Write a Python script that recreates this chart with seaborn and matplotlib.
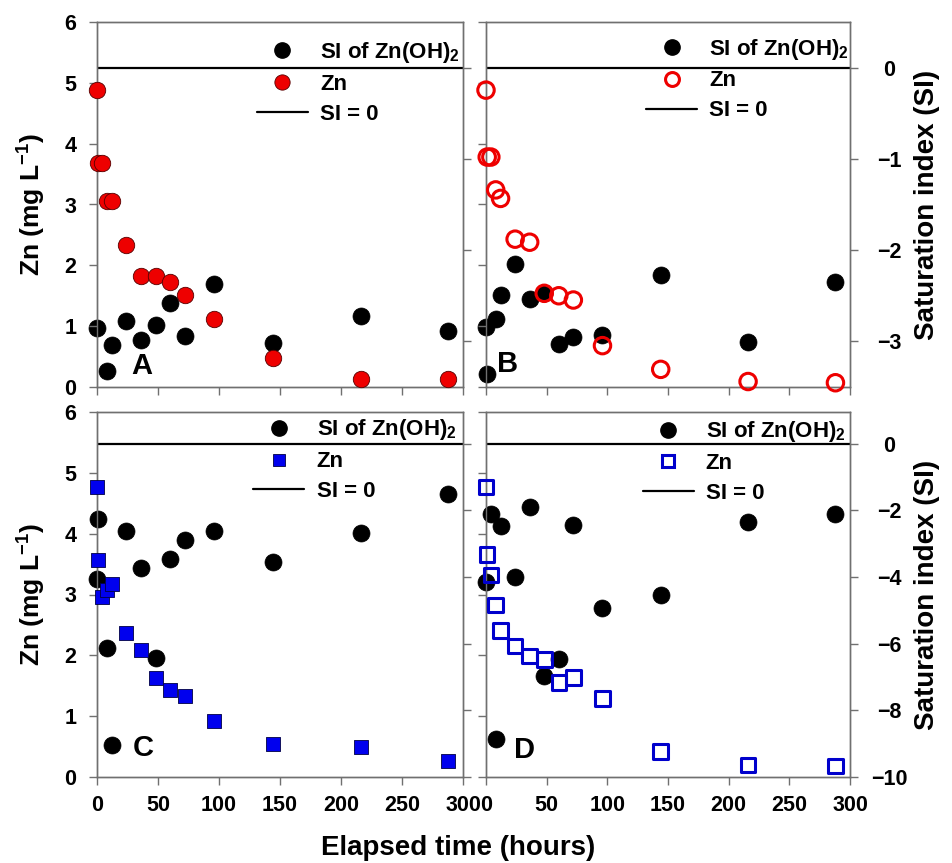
import matplotlib
matplotlib.use("Agg")
import matplotlib.pyplot as plt
from matplotlib.lines import Line2D
import seaborn as sns

# ---- data -------------------------------------------------------------
# Panel A
t_zn_a = [0, 1, 4, 8, 12, 24, 36, 48, 60, 72, 96, 144, 216, 288]
zn_a = [4.88, 3.69, 3.69, 3.05, 3.05, 2.33, 1.82, 1.82, 1.73, 1.51, 1.12, 0.47, 0.13, 0.13]
t_si_a = [0, 8, 12, 24, 36, 48, 60, 72, 96, 144, 216, 288]
si_a = [-2.85, -3.32, -3.04, -2.78, -2.98, -2.82, -2.58, -2.94, -2.37, -3.02, -2.72, -2.89]

# Panel B
t_zn_b = [0, 1, 4, 8, 12, 24, 36, 48, 60, 72, 96, 144, 216, 288]
zn_b = [4.88, 3.78, 3.78, 3.24, 3.10, 2.43, 2.38, 1.54, 1.50, 1.43, 0.68, 0.29, 0.09, 0.07]
t_si_b = [0, 1, 8, 12, 24, 36, 48, 60, 72, 96, 144, 216, 288]
si_b = [-2.84, -3.36, -2.75, -2.49, -2.15, -2.54, -2.47, -3.03, -2.95, -2.93, -2.27, -3.01, -2.35]

# Panel C
t_zn_c = [0, 1, 4, 8, 12, 24, 36, 48, 60, 72, 96, 144, 216, 288]
zn_c = [4.77, 3.57, 2.96, 3.07, 3.18, 2.36, 2.09, 1.62, 1.43, 1.33, 0.92, 0.55, 0.49, 0.26]
t_si_c = [0, 1, 8, 12, 24, 36, 48, 60, 72, 96, 144, 216, 288]
si_c = [-4.06, -2.26, -6.14, -9.05, -2.61, -3.74, -6.42, -3.47, -2.89, -2.61, -3.54, -2.69, -1.50]

# Panel D
t_zn_d = [0, 1, 4, 8, 12, 24, 36, 48, 60, 72, 96, 144, 216, 288]
zn_d = [4.77, 3.66, 3.32, 2.83, 2.41, 2.15, 1.99, 1.93, 1.55, 1.64, 1.29, 0.42, 0.20, 0.18]
t_si_d = [0, 4, 8, 12, 24, 36, 48, 60, 72, 96, 144, 216, 288]
si_d = [-4.14, -2.10, -8.85, -2.46, -3.99, -1.90, -6.96, -6.47, -2.43, -4.94, -4.54, -2.36, -2.10]

x_ticks = [0, 50, 100, 150, 200, 250, 300]
zn_ticks = [0, 1, 2, 3, 4, 5, 6]
si_ticks_top = [0, -1, -2, -3]
si_ticks_bottom = [0, -2, -4, -6, -8, -10]

# ---- style ------------------------------------------------------------
sns.set_theme(style="white")
plt.rcParams["font.family"] = ["Liberation Sans", "DejaVu Sans"]
plt.rcParams["font.weight"] = "bold"
plt.rcParams["text.color"] = "black"
plt.rcParams["axes.labelcolor"] = "black"
plt.rcParams["xtick.color"] = "black"
plt.rcParams["ytick.color"] = "black"
plt.rcParams["mathtext.fontset"] = "custom"
plt.rcParams["mathtext.rm"] = "Liberation Sans:bold"
plt.rcParams["mathtext.it"] = "Liberation Sans:bold"
plt.rcParams["mathtext.bf"] = "Liberation Sans:bold"
plt.rcParams["mathtext.default"] = "rm"

W, H = 952, 863
fig = plt.figure(figsize=(W / 100, H / 100), dpi=100)
fig.patch.set_facecolor("white")

SPINE = "#707070"
TICK_FS = 15.5
LEG_FS = 16


def px_axes(left, right, top, bottom):
    return [left / W, 1 - bottom / H, (right - left) / W, (bottom - top) / H]


panels = [
    dict(rect=px_axes(97, 463, 22, 387), t_zn=t_zn_a, zn=zn_a, t_si=t_si_a, si=si_a,
         si_lim=(-3.5, 0.5), si_ticks=si_ticks_top, color="#ee0000", marker="o",
         open=False, left=True, bottom=False, letter="A", letter_xy=(0.123, 0.02),
         leg_xy=(0.437, 0.95)),
    dict(rect=px_axes(486, 850, 22, 387), t_zn=t_zn_b, zn=zn_b, t_si=t_si_b, si=si_b,
         si_lim=(-3.5, 0.5), si_ticks=si_ticks_top, color="#ee0000", marker="o",
         open=True, left=False, bottom=False, letter="B", letter_xy=(0.06, 0.025),
         leg_xy=(0.44, 0.96)),
    dict(rect=px_axes(97, 463, 412, 777), t_zn=t_zn_c, zn=zn_c, t_si=t_si_c, si=si_c,
         si_lim=(-10, 0.95), si_ticks=si_ticks_bottom, color="#0000ee", marker="s",
         open=False, left=True, bottom=True, letter="C", letter_xy=(0.126, 0.04),
         leg_xy=(0.427, 0.985)),
    dict(rect=px_axes(486, 850, 412, 777), t_zn=t_zn_d, zn=zn_d, t_si=t_si_d, si=si_d,
         si_lim=(-10, 0.95), si_ticks=si_ticks_bottom, color="#0000cc", marker="s",
         open=True, left=False, bottom=True, letter="D", letter_xy=(0.107, 0.035),
         leg_xy=(0.43, 0.98)),
]

for p in panels:
    ax = fig.add_axes(p["rect"])
    ax2 = ax.twinx()
    # Zn series sits above the saturation-index series
    ax.set_zorder(ax2.get_zorder() + 1)
    ax.patch.set_visible(False)

    # saturation index on the right-hand scale
    sns.scatterplot(x=p["t_si"], y=p["si"], ax=ax2, color="black", s=150,
                    edgecolor="black", linewidth=0.5, legend=False, clip_on=False,
                    zorder=3)
    ax2.axhline(0, color="black", lw=1.6, zorder=2)

    # Zn concentration on the left-hand scale
    zn_size = 140 if p["marker"] == "o" else 110
    sns.scatterplot(x=p["t_zn"], y=p["zn"], ax=ax, color=p["color"], s=zn_size,
                    marker=p["marker"], edgecolor="#550000" if p["marker"] == "o" else "#000044",
                    linewidth=0.6, legend=False, clip_on=False, zorder=4)
    coll = ax.collections[-1]
    if p["open"]:
        coll.set_facecolor("none")
        coll.set_edgecolor(p["color"])
        coll.set_linewidth(2.2)

    ax.set_xlim(0, 300)
    ax.set_ylim(0, 6)
    ax2.set_ylim(*p["si_lim"])
    ax.set_xticks(x_ticks)
    ax.set_yticks(zn_ticks)
    ax2.set_yticks(p["si_ticks"])

    for a in (ax, ax2):
        for sp in a.spines.values():
            sp.set_color(SPINE)
            sp.set_linewidth(1.0)
        a.tick_params(direction="out", length=6, width=1.0, color=SPINE,
                      labelsize=TICK_FS, labelcolor="black")
        a.grid(False)

    ax.tick_params(axis="x", bottom=True, labelbottom=p["bottom"], pad=7)
    ax.tick_params(axis="y", left=True, labelleft=p["left"], pad=9)
    ax2.tick_params(axis="y", right=True, labelright=not p["left"], pad=22)
    for lbl in ax2.get_yticklabels():
        lbl.set_horizontalalignment("center")
    for lbl in ax.get_xticklabels() + ax.get_yticklabels() + ax2.get_yticklabels():
        lbl.set_fontweight("bold")

    ax.set_xlabel("")
    ax2.set_ylabel("")
    if p["left"]:
        ax.set_ylabel("Zn (mg L$^{-1}$)", fontsize=19, fontweight="bold", color="black")
        ax.yaxis.set_label_coords(-0.135, 0.5)
    else:
        ax.set_ylabel("")
        ax2.set_ylabel("Saturation index (SI)", fontsize=20, fontweight="bold", color="black")
        ax2.yaxis.set_label_coords(1.175, 0.5)

    ax.text(p["letter_xy"][0], p["letter_xy"][1], p["letter"], transform=ax.transAxes,
            fontsize=21, fontweight="bold", ha="center", va="bottom", color="black")

    if p["open"]:
        zn_handle = Line2D([], [], ls="none", marker=p["marker"], ms=10 if p["marker"] == "o" else 9,
                           mfc="none", mec=p["color"], mew=2.2)
    else:
        zn_handle = Line2D([], [], ls="none", marker=p["marker"], ms=11 if p["marker"] == "o" else 9,
                           mfc=p["color"], mec="#550000" if p["marker"] == "o" else "#000044", mew=0.6)
    handles = [
        Line2D([], [], ls="none", marker="o", ms=11, mfc="black", mec="black"),
        zn_handle,
        Line2D([], [], color="black", lw=1.6),
    ]
    labels = ["SI of Zn(OH)$_2$", "Zn", "SI = 0"]
    leg = ax.legend(handles, labels, loc="upper left", bbox_to_anchor=p["leg_xy"],
                    frameon=False, prop={"weight": "bold", "size": LEG_FS},
                    handlelength=2.3, handletextpad=0.55, labelspacing=0.4,
                    borderpad=0, borderaxespad=0)
    for txt in leg.get_texts():
        txt.set_color("black")

fig.text(458 / W, 1 - 848 / H, "Elapsed time (hours)", ha="center", va="center",
         fontsize=20, fontweight="bold", color="black")

fig.savefig("out.png", dpi=100, facecolor="white")
